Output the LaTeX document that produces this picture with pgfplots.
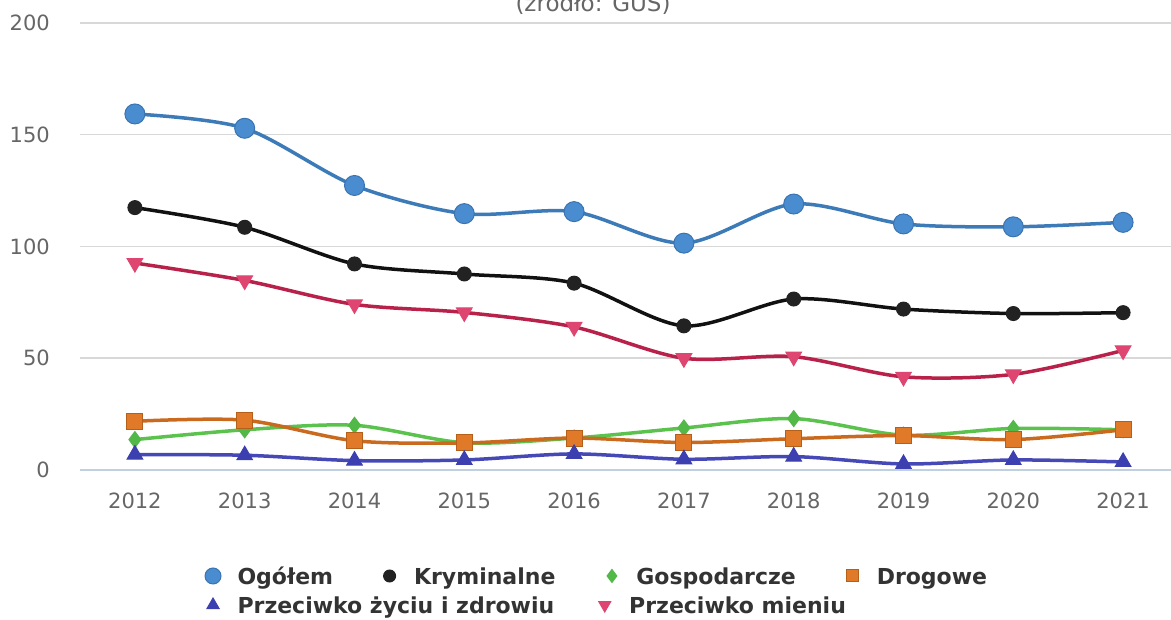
\documentclass[border=0pt]{standalone}
\usepackage{fontspec}
\setmainfont{DejaVu Sans}
\usepackage{pgfplots}
\pgfplotsset{compat=1.18}
\definecolor{labgray}{HTML}{666666}
\definecolor{legtext}{HTML}{333333}
\definecolor{gridcol}{HTML}{D8D8D8}
\definecolor{axiscol}{HTML}{C0D0E0}
\definecolor{ogolLine}{HTML}{3D7AB8}
\definecolor{ogolFill}{HTML}{4A8CD0}
\definecolor{ogolDraw}{HTML}{3A74B0}
\definecolor{kryLine}{HTML}{111111}
\definecolor{kryFill}{HTML}{222222}
\definecolor{gospLine}{HTML}{5CC24E}
\definecolor{gospFill}{HTML}{52B848}
\definecolor{drogLine}{HTML}{C96A1E}
\definecolor{drogFill}{HTML}{E07A28}
\definecolor{drogDraw}{HTML}{B5601A}
\definecolor{zycLine}{HTML}{4548B5}
\definecolor{zycFill}{HTML}{3C3FB0}
\definecolor{mienLine}{HTML}{B8224A}
\definecolor{mienFill}{HTML}{DE4570}
\newcommand{\tickfont}{\fontsize{21bp}{25bp}\selectfont}
\newcommand{\legfont}{\fontsize{22bp}{26bp}\selectfont\bfseries}
\pgfplotsset{
  common/.style={
    scale only axis, width=1098bp, height=447bp,
    at={(80bp,150bp)}, anchor=south west,
    xmin=2011.5, xmax=2021.5, ymin=0, ymax=200,
    clip=false,
    legend cell align=left,
    legend image code/.code={\path[draw=none,fill=none] (-9.5bp,-6.5bp) rectangle (9.5bp,12.5bp); \draw[##1, only marks] plot coordinates {(0bp,3bp)};},
  },
  ser/.style={smooth, tension=0.5, line width=3.5bp},
}
\begin{document}
\begin{tikzpicture}
\useasboundingbox (0bp,0bp) rectangle (1171bp,620bp);
\clip (0bp,0bp) rectangle (1171bp,620bp);
\node[anchor=base, text=labgray, font=\fontsize{23bp}{27bp}\selectfont, inner sep=0pt] at (593bp,608bp) {(źródło: GUS)};
\begin{axis}[common,
  axis x line*=bottom, axis y line*=left,
  x axis line style={draw=axiscol, line width=1.5bp, -},
  y axis line style={draw=none},
  xtick={2012,2013,2014,2015,2016,2017,2018,2019,2020,2021},
  xticklabels={2012,2013,2014,2015,2016,2017,2018,2019,2020,2021},
  xtick style={draw=none},
  extra x ticks={2011.5,2012.5,2013.5,2014.5,2015.5,2016.5,2017.5,2018.5,2019.5,2020.5,2021.5},
  extra x tick labels={},
  extra x tick style={tick style={draw=axiscol, line width=1.5bp}, major tick length=20bp, tick align=outside},
  ytick={0,50,100,150,200},
  yticklabels={0,50,100,150,200},
  ytick style={draw=none},
  ymajorgrids, grid style={draw=gridcol, line width=1.5bp},
  yticklabel style={anchor=east, inner sep=0pt, xshift=-30bp, font=\tickfont, text=labgray},
  xticklabel style={anchor=north, inner sep=0pt, yshift=-23bp, font=\tickfont, text=labgray},
  legend columns=4,
  legend style={at={(0.1125,-0.2416)}, anchor=west, draw=none, fill=none, inner sep=0pt, outer sep=0pt,
    font=\legfont, text=legtext, nodes={inner sep=0pt, text height=16bp, text depth=5bp},
    /tikz/every odd column/.style={column sep=15bp},
    /tikz/every even column/.style={column sep=47bp}},
]
\addplot[ser, color=ogolLine, mark=*, mark size=10bp, mark options={fill=ogolFill, draw=ogolDraw, line width=1bp},
  legend image post style={mark size=8bp}]
  coordinates {(2012,159.3) (2013,152.9) (2014,127.3) (2015,114.7) (2016,115.6) (2017,101.5) (2018,119.0) (2019,110.1) (2020,108.8) (2021,110.8)};
\addlegendentry{Ogółem}
\addplot[ser, color=kryLine, mark=*, mark size=7bp, mark options={fill=kryFill, draw=kryFill, line width=1bp},
  legend image post style={mark size=6bp}]
  coordinates {(2012,117.4) (2013,108.6) (2014,92.2) (2015,87.7) (2016,83.6) (2017,64.5) (2018,76.5) (2019,72.0) (2020,70.0) (2021,70.4)};
\addlegendentry{Kryminalne}
\addplot[ser, color=gospLine, mark=diamond*, mark size=8bp, mark options={fill=gospFill, draw=gospFill, line width=1bp},
  legend image post style={mark size=6.5bp}]
  coordinates {(2012,13.6) (2013,18.0) (2014,20.0) (2015,12.2) (2016,14.3) (2017,18.8) (2018,23.0) (2019,15.6) (2020,18.6) (2021,18.0)};
\addlegendentry{Gospodarcze}
\addplot[ser, color=drogLine, mark=square*, mark size=8bp, mark options={fill=drogFill, draw=drogDraw, line width=1bp},
  legend image post style={mark size=6bp}]
  coordinates {(2012,21.8) (2013,22.3) (2014,13.1) (2015,12.1) (2016,14.3) (2017,12.3) (2018,14.0) (2019,15.4) (2020,13.6) (2021,18.0)};
\addlegendentry{Drogowe}
\end{axis}
\begin{axis}[common, hide axis,
  legend columns=2,
  legend style={at={(0.1125,-0.3065)}, anchor=west, draw=none, fill=none, inner sep=0pt, outer sep=0pt,
    font=\legfont, text=legtext, nodes={inner sep=0pt, text height=16bp, text depth=5bp},
    /tikz/every odd column/.style={column sep=15bp},
    /tikz/every even column/.style={column sep=41bp}},
]
\addplot[ser, color=zycLine, mark=triangle*, mark size=9bp, mark options={fill=zycFill, draw=zycFill, line width=1bp},
  legend image post style={mark size=7bp}]
  coordinates {(2012,6.9) (2013,6.6) (2014,4.2) (2015,4.5) (2016,7.2) (2017,4.8) (2018,6.0) (2019,2.7) (2020,4.5) (2021,3.6)};
\addlegendentry{Przeciwko życiu i zdrowiu}
\addplot[ser, color=mienLine, mark=triangle*, mark size=9bp, mark options={fill=mienFill, draw=mienFill, line width=1bp, rotate=180},
  legend image post style={mark size=7bp}]
  coordinates {(2012,92.6) (2013,84.8) (2014,74.1) (2015,70.5) (2016,64.0) (2017,50.0) (2018,50.7) (2019,41.7) (2020,42.8) (2021,53.5)};
\addlegendentry{Przeciwko mieniu}
\end{axis}
\end{tikzpicture}
\end{document}
